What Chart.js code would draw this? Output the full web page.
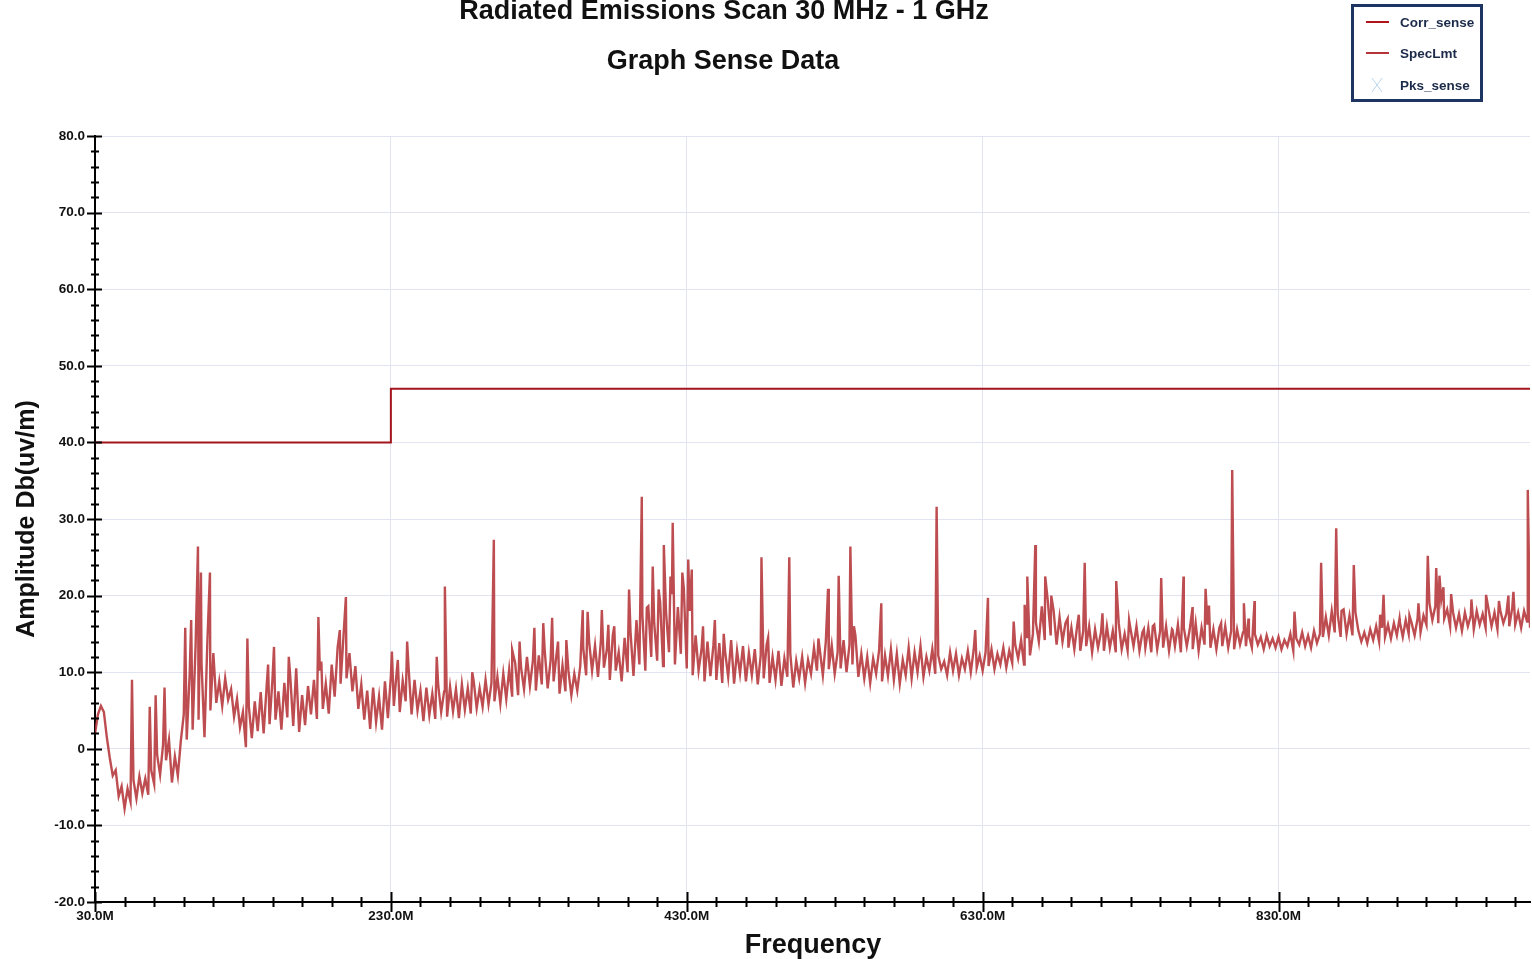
<!DOCTYPE html>
<html>
<head>
<meta charset="utf-8">
<script src="https://cdn.jsdelivr.net/npm/chart.js@4.4.1/dist/chart.umd.min.js"></script>
<style>
  html, body { margin: 0; padding: 0; background: #fff; }
  #wrap { position: relative; width: 1532px; height: 959px; }
</style>
</head>
<body>
<div id="wrap"><canvas id="scan"></canvas></div>
<script>
// scan trace, one reading every 2 MHz from 30 MHz up to 1000 MHz
const scanStart = 30;
const scanStep = 2;
const corrSense = [
  2.0, 4.5, 5.6, 4.8, 1.5, -1.2, -3.5, -2.8, -6.2, -4.9,        // 30
  -7.8, -5.2, -6.9, -4.1, -6.5, -3.6, -5.8, -3.9, -6.0, -2.8,   // 50
  -4.6, -0.8, -3.4, 0.5, -1.5, 1.2, -4.4, -1.0, -3.5, 1.0,      // 70
  4.5, 1.2, 9.8, 2.5, 13.5, 3.8, 11.2, 1.5, 14.2, 5.0,          // 90
  12.5, 6.0, 8.8, 5.6, 9.2, 6.4, 7.8, 4.2, 6.5, 2.8,            // 110
  4.8, 0.2, 5.5, 1.4, 6.2, 2.3, 7.4, 2.0, 8.1, 3.2,             // 130
  9.2, 3.8, 7.5, 2.5, 8.6, 4.1, 9.4, 3.0, 10.5, 2.2,            // 150
  7.0, 3.1, 8.2, 4.5, 9.0, 3.9, 10.2, 5.2, 8.5, 4.6,            // 170
  11.0, 6.8, 13.2, 8.5, 14.8, 9.2, 12.5, 7.5, 10.8, 5.2,        // 190
  8.4, 3.8, 7.6, 2.6, 8.0, 3.5, 6.8, 2.5, 8.8, 4.0,             // 210
  9.5, 5.6, 10.2, 4.8, 8.9, 6.2, 10.5, 4.5, 9.0, 5.0,           // 230
  7.6, 3.6, 8.0, 4.4, 7.2, 3.9, 8.3, 4.8, 7.5, 4.2,             // 250
  8.1, 4.9, 7.8, 4.0, 8.4, 5.1, 7.9, 4.6, 8.8, 5.3,             // 270
  7.9, 5.5, 9.0, 5.8, 8.6, 6.2, 9.4, 5.9, 9.8, 6.5,             // 290
  10.4, 6.8, 11.2, 7.0, 10.6, 7.8, 12.0, 8.2, 11.5, 7.6,        // 310
  12.2, 8.4, 12.8, 7.9, 11.6, 8.8, 12.4, 7.2, 10.9, 7.5,        // 330
  10.2, 7.0, 9.8, 7.6, 10.8, 13.2, 9.6, 14.0, 10.2, 13.5,       // 350
  9.4, 14.2, 10.6, 13.0, 9.0, 14.8, 10.2, 12.6, 8.8, 14.5,      // 370
  10.0, 15.2, 9.5, 16.8, 11.0, 17.5, 10.2, 18.6, 12.0, 16.4,    // 390
  11.5, 19.2, 10.8, 17.8, 12.6, 20.2, 11.0, 18.5, 12.4, 21.0,   // 410
  10.5, 18.0, 9.6, 14.8, 10.2, 13.0, 8.8, 14.0, 9.5, 13.5,      // 430
  9.0, 13.8, 8.6, 12.6, 9.4, 14.2, 8.5, 12.8, 9.8, 13.4,        // 450
  8.8, 12.5, 9.6, 13.0, 8.4, 12.2, 9.2, 13.6, 8.6, 12.0,        // 470
  9.0, 12.8, 8.2, 11.8, 9.4, 12.4, 8.0, 11.5, 9.2, 12.0,        // 490
  8.6, 11.6, 9.8, 13.2, 10.2, 12.8, 9.6, 14.0, 10.4, 13.5,      // 510
  9.8, 12.6, 10.5, 14.2, 10.0, 13.6, 11.0, 14.8, 9.4, 12.4,     // 530
  9.2, 12.0, 8.6, 11.8, 9.8, 12.8, 8.8, 12.2, 9.5, 13.0,        // 550
  9.0, 12.4, 8.5, 11.6, 9.6, 13.2, 9.2, 12.6, 10.0, 13.4,       // 570
  9.4, 12.0, 10.2, 13.0, 9.8, 12.2, 10.4, 11.4, 9.6, 12.6,      // 590
  10.2, 12.4, 9.6, 11.8, 10.4, 12.8, 10.0, 13.0, 10.6, 12.2,    // 610
  10.2, 12.6, 10.8, 13.0, 10.4, 12.4, 11.0, 13.2, 10.6, 12.8,   // 630
  11.2, 13.6, 11.8, 14.2, 11.0, 14.6, 12.2, 15.0, 16.5, 14.0,   // 650
  18.6, 14.2, 19.4, 14.8, 18.0, 13.6, 17.2, 14.0, 16.4, 13.2,   // 670
  15.8, 13.0, 16.2, 12.8, 15.4, 13.4, 16.0, 12.6, 15.6, 13.2,   // 690
  15.2, 12.8, 16.0, 13.2, 15.4, 12.6, 16.4, 13.0, 15.0, 12.8,   // 710
  15.6, 13.4, 16.0, 12.8, 15.2, 13.2, 15.8, 12.6, 16.2, 13.0,   // 730
  15.4, 13.2, 16.0, 12.8, 15.6, 13.4, 16.2, 12.6, 15.8, 13.4,   // 750
  15.6, 13.0, 16.4, 12.8, 15.8, 13.6, 16.2, 13.2, 15.6, 13.0,   // 770
  15.8, 13.4, 16.0, 13.2, 15.4, 13.0, 15.6, 13.6, 15.2, 13.4,   // 790
  14.8, 13.2, 15.0, 13.6, 14.6, 13.0, 14.8, 13.4, 14.4, 13.2,   // 810
  14.6, 13.0, 14.2, 13.4, 15.0, 12.8, 14.4, 13.6, 15.2, 13.4,   // 830
  14.8, 13.2, 15.4, 13.8, 15.0, 14.6, 17.2, 14.8, 18.0, 15.2,   // 850
  17.6, 14.6, 18.2, 15.0, 17.4, 14.8, 17.8, 15.4, 14.0, 15.2,   // 870
  13.8, 15.6, 14.2, 16.0, 14.0, 15.8, 14.6, 16.2, 14.4, 16.4,   // 890
  14.8, 16.6, 14.6, 16.8, 15.0, 16.4, 14.8, 17.0, 15.2, 17.4,   // 910
  16.2, 19.0, 16.8, 18.6, 16.4, 19.4, 17.0, 18.2, 16.0, 17.8,   // 930
  15.8, 17.6, 15.4, 17.8, 16.0, 17.4, 15.6, 18.0, 16.2, 17.6,   // 950
  15.8, 18.2, 16.0, 17.8, 15.6, 18.0, 16.4, 17.6, 16.0, 18.4,   // 970
  16.2, 17.8, 15.8, 18.0, 16.6, 15.8                            // 990
];

// narrow emission peaks riding on the trace (MHz, dBuV/m)
const spikeFreqs = [
  55, 67, 71, 77, 91, 95, 99.6, 101.6, 107.7, 133, 147, 151, 161, 181, 183,
  195.5, 199.6, 230.7, 234.7, 241, 261, 266.5, 285, 299.6, 312, 317, 327, 333, 339,
  343, 348.6, 359.7, 363, 372.6, 377, 381, 391, 399.6, 403, 407, 411, 414.5, 419,
  420.5, 427, 431, 433.4, 441, 449, 455, 480.5, 485, 499.3, 519, 525.5, 532.7,
  540.6, 543, 561.5, 598.9, 625, 633.6, 651, 658.4, 660.2, 665.6, 672.3, 676.4,
  687.5, 695, 699, 711, 720.3, 729, 739, 745, 750.7, 758.4, 765.8, 771.9, 780.7,
  783, 791.2, 798.7, 806.6, 809.7, 813.8, 840.8, 858.8, 869, 872.6, 880.9, 898.7,
  901, 911.8, 918.5, 924.6, 930.9, 936.6, 938.8, 941.5, 946.7, 960.4, 970.3, 979,
  985.4, 988.8, 998.5
];
const spikeLevels = [
  9.0, 5.5, 7.0, 8.0, 15.8, 16.8, 26.4, 23.0, 23.0, 14.4, 11.0, 13.3, 12.0, 17.2, 11.4,
  15.5, 19.8, 12.7, 11.6, 14.0, 12.0, 21.2, 10.0, 27.3, 12.9, 14.0, 15.8, 16.4, 17.1,
  14.0, 14.2, 18.1, 17.9, 18.1, 16.2, 16.0, 20.8, 32.9, 18.4, 23.8, 20.8, 26.6, 22.5,
  29.5, 23.0, 24.7, 23.4, 16.0, 16.8, 15.0, 25.0, 14.5, 25.0, 14.4, 20.9, 22.6,
  26.4, 16.0, 19.0, 31.6, 15.5, 19.7, 16.6, 18.8, 22.5, 26.6, 22.5, 20.0,
  17.0, 17.5, 24.3, 17.7, 21.9, 16.8, 15.6, 16.0, 22.3, 15.5, 22.5, 18.5, 20.9,
  18.7, 16.4, 36.4, 19.0, 17.0, 19.3, 17.9, 24.3, 28.8, 18.0, 24.0, 17.5,
  20.1, 17.0, 17.4, 19.0, 25.2, 23.6, 22.6, 21.1, 20.2, 19.5, 20.1, 19.3,
  20.0, 20.5, 33.8
];

// limit line
const specFreqs = [30, 230, 230, 1000];
const specLevels = [40, 40, 47, 47];

const xMajorTicks = [30, 230, 430, 630, 830];
const yMajorTicks = [-20, -10, 0, 10, 20, 30, 40, 50, 60, 70, 80];

// merge the sweep and the peaks into one trace
const tracePoints = corrSense.map((v, i) => ({ x: scanStart + i * scanStep, y: v }))
  .concat(spikeFreqs.map((f, i) => ({ x: f, y: spikeLevels[i] })))
  .sort((a, b) => a.x - b.x);
const specPoints = specFreqs.map((f, i) => ({ x: f, y: specLevels[i] }));

const xTicks = [];
for (let v = 30; v < 1000; v += 20) xTicks.push(v);
const yTicks = [];
for (let v = -20; v <= 80; v += 2) yTicks.push(v);

Chart.defaults.font.family = "'Liberation Sans', Arial, sans-serif";
Chart.defaults.color = '#111';

// titles, axis names, legend box and crossing tick marks
const decorations = {
  id: 'decorations',
  afterDraw(chart) {
    const ctx = chart.ctx;
    const xs = chart.scales.x, ys = chart.scales.y;
    ctx.save();

    // tick marks crossing the axes
    ctx.strokeStyle = '#000';
    ctx.lineWidth = 2;
    ctx.beginPath();
    yTicks.forEach(v => {
      const py = Math.round(ys.getPixelForValue(v)) + 0.5;
      const major = yMajorTicks.includes(v);
      ctx.moveTo(xs.left - (major ? 8 : 4), py);
      ctx.lineTo(xs.left + (major ? 7 : 4), py);
    });
    xTicks.forEach(v => {
      const px = Math.round(xs.getPixelForValue(v)) + 0.5;
      const major = xMajorTicks.includes(v);
      ctx.moveTo(px, ys.bottom - (major ? 10 : 5));
      ctx.lineTo(px, ys.bottom + (major ? 10 : 5));
    });
    ctx.stroke();

    // titles
    ctx.fillStyle = '#111';
    ctx.textAlign = 'center';
    ctx.textBaseline = 'alphabetic';
    ctx.font = "bold 27px 'Liberation Sans', Arial, sans-serif";
    ctx.fillText('Radiated Emissions Scan 30 MHz - 1 GHz', 724, 19);
    ctx.fillText('Graph Sense Data', 723, 69);
    ctx.fillText('Frequency', 813, 953);

    ctx.save();
    ctx.translate(34, 519);
    ctx.rotate(-Math.PI / 2);
    ctx.font = "bold 25px 'Liberation Sans', Arial, sans-serif";
    ctx.fillText('Amplitude Db(uv/m)', 0, 0);
    ctx.restore();

    // legend box
    ctx.strokeStyle = '#1d3560';
    ctx.lineWidth = 3;
    ctx.strokeRect(1352.5, 5.5, 129, 95);
    ctx.font = "bold 13.5px 'Liberation Sans', Arial, sans-serif";
    ctx.textAlign = 'left';
    ctx.textBaseline = 'middle';
    const items = chart.data.datasets;
    const rows = [22, 53, 85];
    items.forEach((ds, i) => {
      const y = rows[i];
      if (ds.legendMarker === 'cross') {
        ctx.strokeStyle = ds.borderColor;
        ctx.lineWidth = 1;
        ctx.beginPath();
        ctx.moveTo(1372, y - 7); ctx.lineTo(1382, y + 7);
        ctx.moveTo(1382, y - 7); ctx.lineTo(1372, y + 7);
        ctx.stroke();
      } else {
        ctx.strokeStyle = ds.legendColor;
        ctx.lineWidth = 2;
        ctx.beginPath();
        ctx.moveTo(1366, y); ctx.lineTo(1389, y);
        ctx.stroke();
      }
      ctx.fillStyle = '#1b2a48';
      ctx.fillText(ds.label, 1400, y + 1);
    });
    ctx.restore();
  }
};

new Chart(document.getElementById('scan'), {
  type: 'line',
  data: {
    datasets: [
      {
        label: 'Corr_sense',
        data: tracePoints,
        borderColor: 'rgba(180, 52, 56, 0.88)',
        legendColor: '#b0141c',
        borderWidth: 2.4,
        pointRadius: 0,
        tension: 0,
        order: 2
      },
      {
        label: 'SpecLmt',
        data: specPoints,
        borderColor: '#a3151d',
        legendColor: '#b8323a',
        borderWidth: 2,
        pointRadius: 0,
        tension: 0,
        order: 1
      },
      {
        label: 'Pks_sense',
        data: [],
        borderColor: '#b9d6ee',
        legendMarker: 'cross',
        showLine: false,
        pointStyle: 'crossRot'
      }
    ]
  },
  options: {
    responsive: true,
    maintainAspectRatio: false,
    animation: false,
    layout: { padding: { top: 136, right: 2, left: 0, bottom: 0 } },
    plugins: {
      legend: { display: false },
      tooltip: { enabled: false }
    },
    scales: {
      x: {
        type: 'linear',
        min: 30,
        max: 1000,
        afterBuildTicks: (scale) => { scale.ticks = xTicks.map(v => ({ value: v })); },
        afterFit: (scale) => { scale.height = 57; },
        grid: {
          drawTicks: false,
          color: (c) => (c.tick && xMajorTicks.includes(c.tick.value) ? '#e2e3f0' : 'rgba(0,0,0,0)'),
          lineWidth: 1
        },
        border: { display: true, color: '#000', width: 2 },
        ticks: {
          autoSkip: false,
          maxRotation: 0,
          padding: 6,
          color: '#111',
          font: { size: 13.5, weight: 'bold' },
          callback: (v) => (xMajorTicks.includes(v) ? v.toFixed(1) + 'M' : '')
        }
      },
      y: {
        min: -20,
        max: 80,
        afterBuildTicks: (scale) => { scale.ticks = yTicks.map(v => ({ value: v })); },
        afterFit: (scale) => { scale.width = 95; },
        grid: {
          drawTicks: false,
          color: (c) => (c.tick && yMajorTicks.includes(c.tick.value) ? '#e2e3f0' : 'rgba(0,0,0,0)'),
          lineWidth: 1
        },
        border: { display: true, color: '#000', width: 2 },
        ticks: {
          autoSkip: false,
          padding: 10,
          color: '#111',
          font: { size: 13.5, weight: 'bold' },
          callback: (v) => (yMajorTicks.includes(v) ? (v === 0 ? '0' : v.toFixed(1)) : '')
        }
      }
    }
  },
  plugins: [decorations]
});
</script>
</body>
</html>
